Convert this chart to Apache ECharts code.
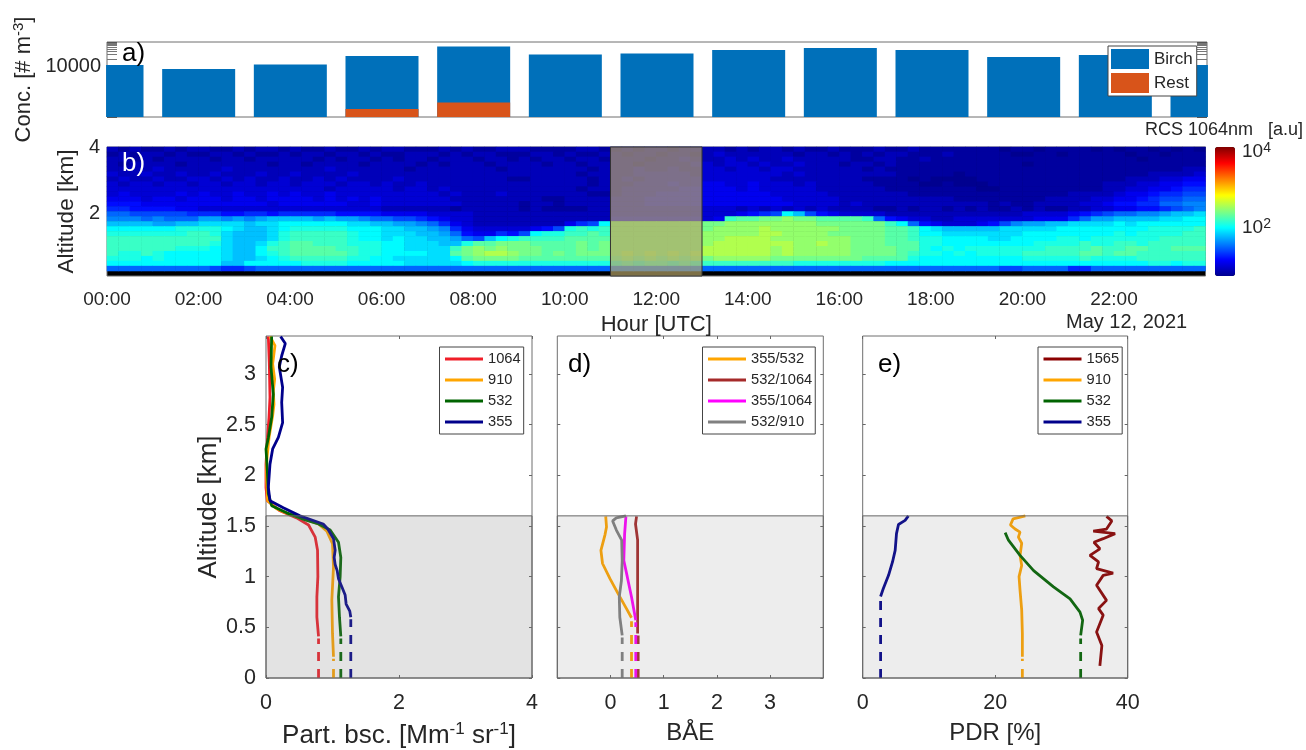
<!DOCTYPE html>
<html><head><meta charset="utf-8">
<script src="https://cdn.jsdelivr.net/npm/echarts@6/dist/echarts.min.js"></script>
<style>html,body{margin:0;background:#fff}#c{width:1306px;height:750px}</style></head>
<body><div id="c"></div>
<script>
// Panel a: pollen concentration [# m-3], bars every 2 h
const concHours = [0,2,4,6,8,10,12,14,16,18,20,22,24];
const birchConc = [11000,7500,11500,26000,65000,30000,33000,46000,56000,46000,24000,29000,11000];
const restConc  = [null,null,null,160,300,null,null,null,null,null,null,null,null];
const hourTicks = [0,2,4,6,8,10,12,14,16,18,20,22];

// Panel b: log10(RCS)*10; rows top (4 km) downward, 96 quarter-hour columns
const rcsRows = [
[9,8,9,8,8,9,8,9,9,8,8,9,8,9,9,8,9,8,8,9,8,8,9,8,9,9,8,8,8,9,8,9,8,8,9,9,9,8,8,8,8,9,9,8,8,9,8,9,9,8,9,9,9,9,8,9,8,9,9,8,9,8,8,9,8,8,8,9,8,8,9,8,8,8,8,8,8,8,7,8,8,7,8,8,8,8,7,8,7,8,8,7,8,7,8,7],
[8,9,8,9,9,8,9,8,8,9,9,8,9,8,8,9,8,9,9,8,9,9,8,9,8,8,9,9,9,8,9,8,9,9,8,8,8,9,9,8,9,8,8,9,9,8,9,9,8,9,9,8,9,10,9,9,9,9,9,9,8,9,9,8,9,8,9,8,9,9,8,8,8,9,8,8,8,8,8,7,7,8,8,7,8,8,8,8,8,7,8,8,7,8,8,8],
[9,9,8,9,8,9,9,9,9,8,9,9,8,9,9,9,9,9,8,9,8,9,9,8,9,8,9,9,8,9,9,9,8,9,9,8,9,8,9,9,8,9,9,8,9,9,9,8,9,9,10,9,9,9,10,9,10,9,9,10,9,9,9,9,9,8,8,9,9,8,8,9,8,8,8,8,8,8,8,8,8,8,8,8,8,8,8,8,8,8,7,8,8,8,8,8],
[9,8,9,9,9,9,8,9,9,9,9,9,9,9,8,9,9,8,9,9,9,9,8,9,9,9,9,8,9,8,9,9,9,8,9,9,9,9,8,9,9,8,9,9,9,9,8,9,9,9,9,10,10,9,10,10,9,10,9,9,10,9,9,9,8,9,9,8,9,8,8,8,8,8,8,8,8,8,8,8,7,8,8,8,8,8,8,8,8,8,8,8,8,8,8,8],
[9,9,9,9,10,9,9,9,9,9,10,9,9,9,9,9,9,9,9,10,9,9,9,9,9,9,8,9,9,9,9,9,9,9,8,9,9,9,9,9,9,9,8,9,9,9,10,9,9,10,9,9,10,10,9,10,10,9,10,10,9,9,9,9,9,9,8,9,8,8,8,8,8,8,8,8,8,8,8,8,8,8,8,8,8,8,8,8,8,8,8,8,8,8,9,9],
[10,9,9,10,9,9,10,9,9,10,9,9,9,10,9,9,10,9,9,9,9,10,9,9,9,9,9,9,9,9,9,9,9,9,9,9,9,9,9,9,9,8,9,9,9,9,10,10,10,10,10,9,10,10,10,10,10,10,10,9,10,9,9,9,9,9,9,9,9,8,8,8,8,8,7,8,8,8,8,8,8,8,8,8,8,8,8,8,8,8,8,9,9,9,9,10],
[9,10,9,9,10,9,9,10,10,9,10,9,10,9,9,10,9,9,10,9,10,9,9,9,9,10,9,9,9,9,9,9,9,9,9,8,8,9,9,9,9,9,8,9,9,10,9,10,10,10,10,10,10,10,10,10,10,10,9,9,9,9,9,9,9,9,8,8,8,8,7,8,7,7,7,7,8,8,8,8,8,8,8,8,8,8,8,8,8,9,9,9,10,10,11,11],
[10,9,10,10,9,10,10,9,10,10,9,10,10,9,10,10,9,10,10,10,9,10,10,9,10,9,9,10,9,9,9,9,9,9,9,9,9,9,9,9,9,9,8,9,9,9,10,10,10,11,10,10,11,11,10,10,11,10,10,10,9,10,9,9,9,9,9,8,8,8,8,7,7,8,7,7,7,8,8,8,8,8,8,8,8,8,8,9,9,9,10,10,11,11,12,12],
[10,10,10,10,10,10,10,10,10,10,10,10,10,10,10,10,10,10,10,9,10,10,10,10,10,9,10,10,9,10,9,9,9,9,9,9,9,9,9,9,9,8,9,9,9,10,10,10,10,10,11,11,11,11,11,10,11,10,10,10,10,10,9,9,9,9,9,9,8,8,8,8,8,8,8,8,7,7,8,8,8,8,8,8,8,8,8,9,9,10,10,11,11,12,13,13],
[10,11,10,10,10,10,11,10,11,10,10,11,10,10,11,10,11,10,10,11,10,10,10,10,10,10,10,10,10,9,10,9,9,9,10,9,9,9,9,9,9,9,8,8,9,10,10,10,11,11,11,11,11,11,11,11,11,11,10,10,10,10,10,9,9,9,9,9,9,9,8,8,8,8,8,8,8,8,8,8,8,8,8,8,9,9,9,9,10,11,11,12,13,13,14,14],
[11,11,11,10,11,11,10,11,11,11,10,11,11,10,11,11,11,11,10,11,10,11,10,11,10,10,10,10,10,10,9,9,9,9,9,9,9,9,8,8,9,9,9,9,10,10,10,11,11,11,11,11,11,11,11,11,11,11,11,10,10,10,10,10,9,9,9,9,9,9,9,9,9,9,8,8,8,8,8,8,8,8,9,9,9,9,10,10,11,11,12,13,14,14,15,15],
[12,12,12,11,11,11,11,11,11,11,11,11,11,11,10,11,11,11,11,11,11,10,10,11,10,10,10,10,10,10,10,9,9,9,9,9,8,9,9,8,9,9,9,9,10,10,10,11,11,11,11,11,11,11,11,11,11,11,11,11,10,10,10,10,9,10,9,9,9,9,9,9,9,9,9,9,9,8,9,8,8,9,9,9,9,10,10,11,12,12,13,13,15,15,16,16],
[13,13,12,12,12,12,11,11,10,10,10,10,10,10,10,10,10,10,10,10,10,10,10,10,9,9,9,9,9,9,8,9,9,9,9,9,8,9,8,8,8,8,9,9,10,10,10,10,10,10,10,10,10,10,10,9,10,9,10,9,10,9,10,9,9,9,9,8,8,9,8,9,9,8,9,8,9,8,8,9,8,9,8,8,9,9,10,10,11,11,12,12,13,14,15,16],
[15,15,14,14,14,14,14,13,13,13,12,12,13,13,12,13,13,13,13,13,12,12,12,12,11,11,11,11,10,10,10,10,9,9,9,9,9,9,9,9,9,9,9,9,10,10,10,10,10,10,10,10,10,10,10,11,12,13,14,20,18,14,12,11,10,10,10,10,9,9,9,9,9,9,9,9,9,9,9,9,10,10,10,10,11,12,13,14,15,15,16,16,17,18,18,19],
[16,16,16,15,16,15,15,15,17,17,16,17,16,17,18,18,18,18,17,18,17,17,16,15,15,14,14,13,12,11,10,10,9,9,9,9,9,9,9,9,9,9,9,9,11,11,11,11,11,11,11,11,10,11,22,23,23,24,24,25,24,24,23,23,23,23,22,15,12,11,10,10,9,9,10,10,10,10,10,10,10,11,11,11,13,15,17,17,18,18,18,18,19,19,20,20],
[18,18,18,18,17,17,18,18,19,19,19,19,18,19,19,20,20,20,20,20,20,19,19,18,18,17,17,16,15,13,11,10,9,9,9,9,9,9,9,9,11,13,14,20,24,24,24,24,24,24,24,24,24,24,25,25,25,25,25,25,25,25,24,24,24,24,24,24,22,20,15,12,11,10,10,10,11,12,14,16,17,17,18,18,19,19,19,19,20,19,20,20,20,20,20,20],
[20,20,20,20,20,20,21,21,21,21,20,19,18,18,19,20,21,21,21,21,21,20,20,20,19,19,18,18,17,16,13,11,10,10,10,10,10,11,12,14,21,22,21,22,24,24,24,24,24,24,24,24,24,25,25,25,25,26,25,25,25,25,25,25,24,24,24,24,23,23,22,20,19,18,18,18,18,18,19,19,19,19,19,20,20,20,20,20,20,20,20,21,21,21,21,22],
[21,21,21,21,21,21,21,22,22,21,19,18,18,18,19,21,22,22,22,22,22,21,20,20,19,19,19,18,18,17,15,12,11,11,13,12,14,20,21,21,22,22,23,22,24,24,24,24,24,24,24,24,25,25,25,25,25,26,26,25,25,25,25,24,24,24,24,24,23,23,22,20,20,19,19,19,19,19,19,19,20,20,20,20,20,20,20,20,21,20,21,21,21,21,22,22],
[22,22,22,22,22,22,22,22,22,22,19,18,18,18,19,21,22,22,22,22,22,21,20,20,19,20,19,19,18,18,17,15,14,18,20,21,22,22,22,22,23,23,23,23,24,24,24,24,24,24,24,24,25,25,26,26,26,26,25,25,25,25,25,25,25,24,24,24,23,23,22,21,21,20,20,20,20,19,19,20,20,20,20,21,21,20,21,21,21,21,21,21,22,22,22,22],
[22,22,22,22,22,22,22,22,22,21,19,18,18,19,21,22,23,23,22,22,22,21,21,21,20,20,19,19,19,18,18,21,23,23,24,24,24,23,23,23,23,24,23,24,24,24,24,24,24,24,24,24,25,26,26,26,26,26,26,26,25,25,26,25,25,24,24,24,23,23,23,21,21,20,20,20,20,20,20,20,20,21,21,21,21,22,21,21,22,22,21,22,22,22,22,22],
[22,22,22,22,22,22,21,21,21,20,19,18,18,20,22,22,23,23,23,23,22,22,21,21,20,20,19,19,19,19,22,24,25,24,25,24,24,24,23,23,23,24,23,24,24,24,24,24,24,24,24,24,26,26,26,26,26,26,25,26,25,25,25,25,25,24,24,24,24,23,23,21,20,21,20,21,21,21,21,21,21,21,22,22,22,22,23,22,22,23,23,22,22,23,23,23],
[22,21,21,22,21,20,20,20,20,20,19,18,18,20,21,22,23,23,23,23,23,22,21,21,20,20,20,20,19,19,23,24,25,26,26,25,24,24,23,24,23,24,24,24,24,25,24,25,24,25,24,25,26,26,26,26,26,26,25,26,25,25,25,25,25,24,24,24,24,23,22,21,21,20,21,20,21,21,21,21,22,22,22,22,22,23,23,22,23,23,22,22,22,22,22,22],
[21,21,21,20,21,20,20,20,20,20,19,18,18,19,20,21,22,22,22,22,22,21,21,20,20,19,19,19,19,19,20,23,24,24,24,24,23,23,23,23,23,23,23,23,23,24,23,24,23,24,23,24,24,25,25,25,25,25,24,24,24,24,24,24,24,24,23,23,23,23,21,20,20,20,20,20,20,20,20,20,21,21,21,21,21,22,21,21,21,21,22,22,22,22,22,22],
[20,20,20,20,20,20,20,20,20,20,18,18,20,20,20,20,20,21,21,21,21,20,20,20,20,20,19,19,19,19,19,20,21,21,21,21,21,21,21,21,21,21,21,21,21,22,21,22,22,21,22,21,22,22,22,22,22,22,22,22,21,21,21,21,21,21,21,21,20,20,20,20,20,20,20,20,20,20,20,20,20,20,20,20,20,20,20,20,20,20,20,21,21,20,21,21],
[15,15,15,15,15,15,15,15,15,14,13,13,14,15,15,15,15,15,15,15,15,15,15,15,15,15,15,15,15,15,15,15,15,15,15,15,15,15,15,15,15,15,15,15,15,15,15,15,15,15,15,15,15,15,15,15,15,15,15,15,15,15,15,15,15,15,15,15,15,15,15,15,15,15,15,15,15,15,14,14,15,15,15,15,13,13,15,15,15,15,15,15,15,15,15,15]
];
const rcsBelowOverlapRows = 1; // lowest altitude bin has no signal (drawn black)
const rcsScaleMin = 7.4, rcsScaleMax = 41.3;
const jetColors = ['#00008f','#0000ff','#0080ff','#00ffff','#80ff80','#ffff00','#ff8000','#ff0000','#800000'];

// Panel c: backscatter [value, altitude]
const bsc1064 = [[.79,.41],[.765,.6],[.765,.8],[.78,1],[.775,1.26],[.74,1.39],[.64,1.51],[.46,1.58],[.21,1.65],[.02,1.75],[0,1.88],[0,2.11],[.02,2.34],[.045,2.57],[.06,2.77],[.05,3.1],[.035,3.37]];
const bsc1064Low = [[.79,0],[.79,.39]];
const bsc910 = [[1.015,.21],[1,.44],[.99,.77],[1.015,1.095],[1,1.325],[.915,1.45],[.79,1.52],[.34,1.62],[.16,1.67],[.025,1.75],[.01,1.95],[.01,2.14],[.045,2.37],[.1,2.59],[.12,2.7],[.11,2.83],[.13,2.95],[.1,3.1],[.135,3.28],[.06,3.37]];
const bsc910Low = [[1.015,0],[1.015,.19]];
const bsc532 = [[1.125,.41],[1.105,.6],[1.09,.8],[1.115,1],[1.125,1.19],[1.09,1.34],[.965,1.46],[.79,1.52],[.59,1.56],[.31,1.63],[.085,1.7],[.035,1.82],[.02,2.05],[0,2.26],[.035,2.37],[.085,2.57],[.11,2.8],[.075,3.07],[.085,3.37]];
const bsc532Low = [[1.125,0],[1.125,.39]];
const bsc355 = [[1.275,.6],[1.26,.66],[1.205,.73],[1.19,.82],[1.14,.9],[1.09,.98],[1.07,1.06],[1.04,1.12],[1.025,1.19],[1.04,1.26],[1.015,1.375],[.93,1.47],[.86,1.52],[.51,1.6],[.26,1.68],[.06,1.75],[.035,1.88],[.06,2.11],[.1,2.26],[.186,2.375],[.25,2.52],[.236,2.72],[.25,2.87],[.2,3.07],[.236,3.18],[.29,3.3],[.22,3.37]];
const bsc355Low = [[1.275,0],[1.275,.58]];

// Panel d: Angstrom exponents
const ae355532 = [[.395,.595],[.3,.685],[.145,.83],[-.01,.98],[-.15,1.13],[-.18,1.26],[-.105,1.41],[-.075,1.49],[-.09,1.595]];
const ae355532Low = [[.395,0],[.395,.56]];
const ae5321064 = [[.51,.44],[.51,.93],[.51,1.36],[.47,1.52],[.49,1.595]];
const ae5321064Low = [[.52,0],[.52,.42]];
const ae3551064 = [[.475,.57],[.395,.8],[.315,1],[.25,1.16],[.265,1.42],[.29,1.595]];
const ae3551064Low = [[.475,0],[.475,.55]];
const ae532910 = [[.22,.42],[.175,.6],[.165,.8],[.205,.96],[.22,1.16],[.21,1.36],[.11,1.46],[.04,1.55],[.11,1.58],[.29,1.6]];
const ae532910Low = [[.22,0],[.22,.4]];

// Panel e: depolarisation ratio
const pdr1565 = [[35.8,.12],[36.1,.32],[35.3,.455],[36.3,.62],[35.6,.685],[36.8,.766],[35.3,.915],[36.3,1.013],[37.8,1.035],[35.3,1.08],[35.6,1.145],[34.3,1.21],[35.8,1.275],[34.9,1.34],[36.3,1.375],[38.1,1.425],[34.8,1.45],[36.8,1.47],[37.6,1.55],[36.8,1.595]];
const pdr910 = [[24.1,.21],[24.1,.44],[24,.67],[23.75,.865],[23.6,1],[24,1.11],[23.75,1.21],[24,1.33],[23.5,1.39],[23.75,1.44],[23,1.47],[22.3,1.51],[22.7,1.57],[24.55,1.6]];
const pdr910Low = [[24.1,0],[24.1,.19]];
const pdr532 = [[32.9,.42],[33.2,.57],[32.8,.65],[31.3,.78],[28.8,.9],[25.8,1.06],[23.75,1.21],[22,1.36],[21.5,1.435]];
const pdr532Low = [[32.9,0],[32.9,.39]];
const pdr355 = [[2.7,.805],[3.1,.88],[3.9,1.013],[4.5,1.145],[4.9,1.26],[5.1,1.425],[5.4,1.515],[6.4,1.555],[6.9,1.6]];
const pdr355Low = [[2.7,0],[2.7,.78]];

const altTicks = [0,.5,1,1.5,2,2.5,3];
const bsTicks = [0,2,4], aeTicks = [0,1,2,3], pdrTicks = [0,20,40];
const layerTop = 1.6;

const FONT='Liberation Sans', INK='#262626', TICK='#666', BOX='#6e6e6e';
const RED='#f01e28',ORANGE='#ffa500',GREEN='#006400',NAVY='#00008b',BROWN='#a52a2a',DRED='#8b0000',MAG='#ff00ff',GRAY='#808080';

const plotBox = (left,top,width,height,bg)=>({left,top,width,height,show:true,outerBoundsMode:'none',borderColor:BOX,borderWidth:1,backgroundColor:bg||'transparent'});
const grid=[plotBox(107,42,1100,75),plotBox(107,147,1098.5,129,'#000'),{left:1215,top:147,width:20,height:129,show:false,outerBoundsMode:'none'},
  plotBox(266,336,266,342),plotBox(557.3,336,266,342),plotBox(862.7,336,265,342)];

const off={show:false};
const noLine={show:false,onZero:false};
const rowLabels=Array.from({length:rcsRows.length+rcsBelowOverlapRows},(_,i)=>String(i));
const xAxis=[
 {gridIndex:0,type:'value',position:'bottom',min:0,max:24,axisLine:noLine,axisTick:off,axisLabel:off,splitLine:off},            //0
 {gridIndex:1,type:'category',position:'top',data:rcsRows[0].map((_,i)=>String(i)),show:false},              //1
 {gridIndex:1,type:'value',position:'bottom',min:0,max:24,axisLine:noLine,axisTick:off,splitLine:off,        //2
  axisLabel:{customValues:hourTicks,formatter:v=>String(v).padStart(2,'0')+':00',fontFamily:FONT,fontSize:19,color:INK,margin:14},
  name:'Hour [UTC]',nameLocation:'middle',nameGap:38,nameTextStyle:{fontFamily:FONT,fontSize:22,color:INK}},
 {gridIndex:2,type:'value',min:0,max:1,show:false}                                                         //3
];
const logTick={show:true,inside:true,length:10,lineStyle:{color:'#555'}};
const logMinor={show:true,splitNumber:9,length:10,lineStyle:{color:'#777'}};
const yAxis=[
 {gridIndex:0,type:'log',position:'left',min:75,max:100000,axisLine:noLine,splitLine:off,minorSplitLine:off,
  axisTick:logTick,minorTick:logMinor,
  axisLabel:{formatter:v=>Math.round(v)===10000?'10000':'',fontFamily:FONT,fontSize:20,color:INK,margin:6},
  name:'{a|Conc. [# m}{s|-3}{a|]}',nameLocation:'middle',nameGap:64,nameTextStyle:{rich:{a:{fontFamily:FONT,fontSize:22,color:INK},s:{fontFamily:FONT,fontSize:15,color:INK,verticalAlign:'bottom',padding:[0,0,10,0]}}}}, //0
 {gridIndex:0,type:'log',min:75,max:100000,position:'right',axisLine:noLine,splitLine:off,minorSplitLine:off,axisLabel:off,
  axisTick:logTick,minorTick:logMinor}, //1
 {gridIndex:1,type:'category',position:'right',inverse:true,data:rowLabels,show:false},                     //2
 {gridIndex:1,type:'value',position:'left',min:0.1,max:4,axisLine:noLine,axisTick:off,splitLine:off,
  axisLabel:{customValues:[2,4],fontFamily:FONT,fontSize:20,color:INK,margin:7},
  name:'Altitude [km]',nameLocation:'middle',nameGap:17,nameTextStyle:{fontFamily:FONT,fontSize:22.5,color:INK}}, //3
 {gridIndex:2,type:'value',min:.74,max:4.13,position:'right',axisLine:noLine,axisTick:off,splitLine:off,
  axisLabel:{customValues:[2,4],margin:7,formatter:v=>'{a|10}{s|'+v+'}',rich:{a:{fontFamily:FONT,fontSize:19,color:INK},s:{fontFamily:FONT,fontSize:14,color:INK,verticalAlign:'bottom',padding:[0,0,8,0]}}}} //4
];
const tickStyle={show:true,inside:true,length:3,lineStyle:{color:TICK}};
function profileAxes(g,xr,xTicks,name,showAlt,gap,nameStyle){
  const xi=xAxis.length, yi=yAxis.length;
  const lab={fontFamily:FONT,fontSize:21.5,color:INK};
  xAxis.push({gridIndex:g,type:'value',position:'bottom',min:xr[0],max:xr[1],axisLine:noLine,splitLine:off,axisTick:{...tickStyle,customValues:xTicks},
    axisLabel:{...lab,customValues:xTicks,margin:14},name,nameLocation:'middle',nameGap:gap,nameTextStyle:nameStyle});
  xAxis.push({gridIndex:g,type:'value',position:'top',min:xr[0],max:xr[1],axisLine:noLine,splitLine:off,axisLabel:off,axisTick:{...tickStyle,customValues:xTicks}});
  yAxis.push({gridIndex:g,type:'value',position:'left',min:0,max:3.375,axisLine:noLine,splitLine:off,axisTick:{...tickStyle,customValues:altTicks},
    axisLabel:showAlt?{...lab,customValues:altTicks,margin:10,formatter:v=>String(v)}:off,
    name:showAlt?'Altitude [km]':'',nameLocation:'middle',nameGap:44,nameTextStyle:{fontFamily:FONT,fontSize:26,color:INK}});
  yAxis.push({gridIndex:g,type:'value',position:'right',min:0,max:3.375,axisLine:noLine,splitLine:off,axisLabel:off,axisTick:{...tickStyle,customValues:altTicks}});
  return [xi,yi];
}
const plainName={fontFamily:FONT,fontSize:24,color:INK};
const bscName={rich:{a:{fontFamily:FONT,fontSize:26,color:INK},s:{fontFamily:FONT,fontSize:17,color:INK,verticalAlign:'bottom',padding:[0,0,12,0]}}};
const [cx,cy]=profileAxes(3,[0,4],bsTicks,'{a|Part. bsc. [Mm}{s|-1}{a| sr}{s|-1}{a|]}',true,43,bscName);
const [dx,dy]=profileAxes(4,[-1,4],aeTicks,'BÅE',false,43,plainName);
const [ex,ey]=profileAxes(5,[0,40],pdrTicks,'PDR [%]',false,43,plainName);

// A second, empty x position next to 0 h keeps the bar band narrow, so the clip stops at the axis box.
const barX = concHours.map((h,i)=>[h,birchConc[i]]).concat([[0.02,null]]);
const series=[
 {name:'Birch',type:'bar',clip:true,xAxisIndex:0,yAxisIndex:0,barWidth:73,barGap:'-100%',itemStyle:{color:'#0070ba'},data:barX},
 {name:'Rest',type:'bar',clip:true,xAxisIndex:0,yAxisIndex:0,barWidth:73,barGap:'-100%',itemStyle:{color:'#d8541a'},data:concHours.map((h,i)=>[h,restConc[i]])},
 {name:'rcs',type:'heatmap',xAxisIndex:1,yAxisIndex:2,data:rcsRows.flatMap((r,j)=>r.map((v,i)=>[i,j,v])),progressive:0,emphasis:{disabled:true}},
 {name:'daylight',type:'line',xAxisIndex:2,yAxisIndex:3,data:[],z:5,symbol:'none',
  markArea:{silent:true,z:6,itemStyle:{color:'rgba(184,165,103,.68)',borderColor:'#333',borderWidth:1},data:[[{xAxis:11,yAxis:0.1},{xAxis:13,yAxis:4}]]}}
];
const idx=series.findIndex(s=>s.type==='heatmap');
function prof(name,x,y,solid,low,color){
  const base={type:'line',xAxisIndex:x,yAxisIndex:y,symbol:'none',z:2,silent:true};
  series.push({...base,name,data:solid,lineStyle:{color,width:2.8},itemStyle:{color}});
  if(low) series.push({...base,name:name+' low',data:low,lineStyle:{color,width:2.8,type:[9,8]},itemStyle:{color}});
}
prof('1064',cx,cy,bsc1064,bsc1064Low,RED);
prof('910',cx,cy,bsc910,bsc910Low,ORANGE);
prof('532',cx,cy,bsc532,bsc532Low,GREEN);
prof('355',cx,cy,bsc355,bsc355Low,NAVY);
prof('355/532',dx,dy,ae355532,ae355532Low,ORANGE);
prof('532/1064',dx,dy,ae5321064,ae5321064Low,BROWN);
prof('355/1064',dx,dy,ae3551064,ae3551064Low,MAG);
prof('532/910',dx,dy,ae532910,ae532910Low,GRAY);
prof('1565',ex,ey,pdr1565,null,DRED);
prof('910',ex,ey,pdr910,pdr910Low,ORANGE);
prof('532',ex,ey,pdr532,pdr532Low,GREEN);
prof('355',ex,ey,pdr355,pdr355Low,NAVY);
function shade(x,y,xr,a){
  series.push({name:'shade'+x,type:'line',xAxisIndex:x,yAxisIndex:y,data:[],z:8,symbol:'none',
    markArea:{silent:true,z:9,itemStyle:{color:'rgba(128,128,128,'+a+')',borderColor:'#666',borderWidth:1},data:[[{xAxis:xr[0],yAxis:0},{xAxis:xr[1],yAxis:layerTop}]]}});
}
shade(cx,cy,[0,4],.22); shade(dx,dy,[-1,4],.14); shade(ex,ey,[0,40],.14);

const legendBase={orient:'vertical',backgroundColor:'#fff',borderColor:'#444',borderWidth:1,selectedMode:false,z:20,
  itemStyle:{color:'transparent',borderColor:'transparent',opacity:0},lineStyle:{width:3},
  itemGap:6,itemHeight:14,itemWidth:38,padding:[4.5,3,4.5,4],textStyle:{fontFamily:FONT,fontSize:14.7,color:INK,lineHeight:14}};
const legend=[
 {orient:'vertical',icon:'rect',left:1108,top:46,backgroundColor:'#fff',borderColor:'#444',borderWidth:1,selectedMode:false,z:20,itemGap:4,itemWidth:38,itemHeight:20,padding:[3,4,3,3],
  textStyle:{fontFamily:FONT,fontSize:17,color:INK},data:['Birch','Rest']},
 {...legendBase,left:439.5,top:347,data:['1064','910','532','355']},
 {...legendBase,left:702.5,top:347,data:['355/532','532/1064','355/1064','532/910']},
 {...legendBase,left:1038,top:347,data:['1565','910','532','355']}
];
const label=(text,left,top,color,size)=>({text,left,top,padding:0,textStyle:{fontFamily:FONT,fontWeight:'normal',fontSize:size,color}});
const title=[
 label('a)',122,41,'#000',26),label('b)',122,151,'#fff',26),label('c)',277,352,'#000',26),label('d)',568,352,'#000',26),label('e)',878,352,'#000',26),
 label('RCS 1064nm   [a.u]',1145,121,INK,18),label('May 12, 2021',1066,312,INK,20)
];
const chart=echarts.init(document.getElementById('c'),null,{renderer:'canvas'});
chart.setOption({animation:false,title,grid,xAxis,yAxis,series,legend,
 visualMap:{type:'continuous',seriesIndex:idx,dimension:2,min:rcsScaleMin,max:rcsScaleMax,left:1215,top:147,itemWidth:20,itemHeight:129,padding:0,calculable:false,text:null,showLabel:false,
   inRange:{color:jetColors},outOfRange:{color:'#000'},hoverLink:false}});
</script></body></html>
